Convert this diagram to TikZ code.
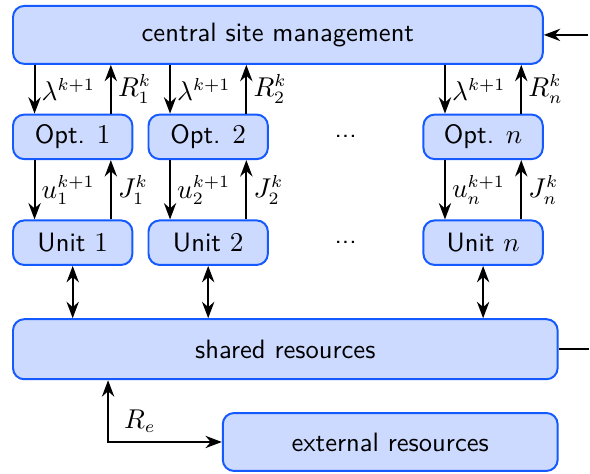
\documentclass[tikz,border=0pt]{standalone}
\usepackage{amsmath,amssymb}
\usepackage{tikz}
\usetikzlibrary{arrows.meta, positioning, calc}
\definecolor{boxblue}{RGB}{20,90,255}
\definecolor{boxfill}{RGB}{204,218,255}
\tikzset{
  blk/.style={rectangle, draw=boxblue, fill=boxfill, thick, rounded corners=4.5pt,
    align=center},
  wide/.style={blk, minimum width=75mm, minimum height=8.2mm},
  opt/.style={blk, minimum width=16.9mm, minimum height=6.3mm},
  arrow/.style={->, >=Stealth, thick},
  both/.style={<->, >=Stealth, thick},
  lbl/.style={right, inner sep=2.5pt}
}
\begin{document}
\begin{tikzpicture}[node distance=6.9mm and 2mm,
    font=\sffamily\fontsize{10.7pt}{13pt}\selectfont]
  \node[wide] (csm) {central site management};
  \node[opt, below=6.9mm of csm.south west, anchor=north west] (opt1) {Opt. $1$};
  \node[opt, right=of opt1] (opt2) {Opt. $2$};
  \node[opt, below=6.9mm of csm.south east, anchor=north east] (optn) {Opt. $n$};
  \node[opt, below=8.4mm of opt1] (unit1) {Unit $1$};
  \node[opt, below=8.4mm of opt2] (unit2) {Unit $2$};
  \node[opt, below=8.4mm of optn] (unitn) {Unit $n$};
  \node at ($(opt2)!0.5!(optn)$) (dots1) {...};
  \node at ($(unit2)!0.5!(unitn)$) (dots2) {...};
  \node[wide, minimum width=77.1mm, minimum height=8.5mm,
    below=7.4mm of unit1.south west, anchor=north west] (shared) {shared resources};
  \node[wide, minimum width=47.4mm,
    below=4.5mm of shared.south east, anchor=north east] (ext) {external resources};

  % free ends on the right
  \coordinate[right=6.3mm of csm.east] (in);
  \coordinate[right=4.3mm of shared.east] (out);

  \foreach \i in {1,2,n} {
    \coordinate (a\i) at ([xshift=-5.4mm]opt\i.north);
    \coordinate (b\i) at ([xshift=5.4mm]opt\i.north);
    \draw[arrow] (a\i |- csm.south) -- node[lbl] {$\lambda^{k+1}$} (a\i);
    \draw[arrow] (b\i) -- node[lbl] {$R_{\i}^k$} (b\i |- csm.south);
    \draw[arrow] ([xshift=-5.4mm]opt\i.south) -- node[lbl] {$u_{\i}^{k+1}$} ([xshift=-5.4mm]unit\i.north);
    \draw[arrow] ([xshift=5.4mm]unit\i.north) -- node[lbl] {$J_{\i}^k$} ([xshift=5.4mm]opt\i.south);
    \draw[both] (unit\i.south) -- (unit\i.south |- shared.north);
  }

  \draw[arrow] (in) -- (csm.east);
  \draw[thick] (shared.east) -- (out);
  \coordinate (re) at ([xshift=13.6mm]shared.south west);
  \draw[both] (re) |- node[pos=0.53, above right] {$R_e$} (ext.west);

  \path ([xshift=-1.7mm, yshift=0.7mm]csm.north west) rectangle ([yshift=-0.25mm]ext.south -| in);
\end{tikzpicture}
\end{document}
